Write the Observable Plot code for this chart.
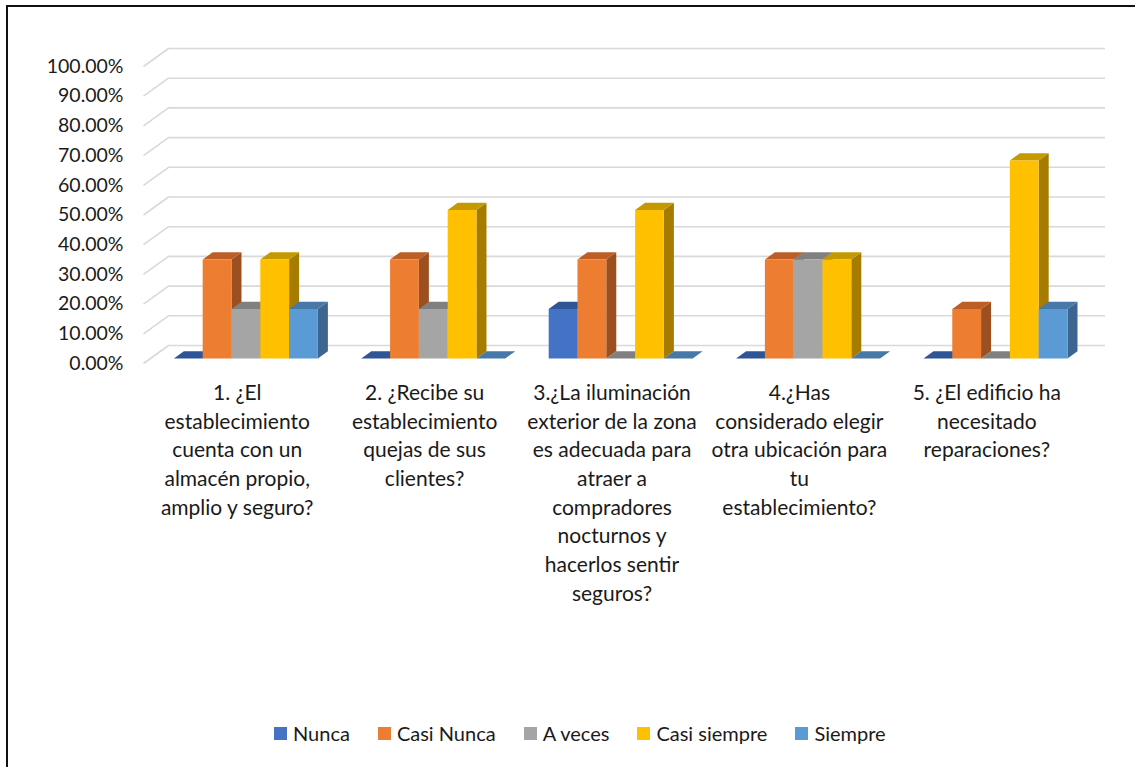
<!DOCTYPE html>
<html>
<head>
<meta charset="utf-8">
<script src="https://cdn.jsdelivr.net/npm/d3@7"></script>
<script src="https://cdn.jsdelivr.net/npm/@observablehq/plot@0.6"></script>
<style>
  html, body { margin: 0; padding: 0; background: #fff; }
  #wrap { position: relative; width: 1135px; height: 767px; overflow: hidden; font-family: Lato, "Open Sans", sans-serif; }
  #frame { position: absolute; left: 6px; top: 5px; width: 1140px; height: 800px; border-top: 2.5px solid #111; border-left: 2.5px solid #111; pointer-events: none; }
  #chart { position: absolute; left: 0; top: 0; }
  #legend { position: absolute; left: 274px; top: 721px; display: flex; align-items: center; font-size: 20px; color: #1a1a1a; }
  .item { display: flex; align-items: center; margin-right: 28px; }
  .sw { width: 13px; height: 13px; margin-right: 6px; }
</style>
</head>
<body>
<div id="wrap">
  <div id="chart"></div>
  <div id="legend"></div>
  <div id="frame"></div>
</div>
<script>
// ---- data ----
const categories = [
  "1. ¿El\nestablecimiento\ncuenta con un\nalmacén propio,\namplio y seguro?",
  "2. ¿Recibe su\nestablecimiento\nquejas de sus\nclientes?",
  "3.¿La iluminación\nexterior de la zona\nes adecuada para\natraer a\ncompradores\nnocturnos y\nhacerlos sentir\nseguros?",
  "4.¿Has\nconsiderado elegir\notra ubicación para\ntu\nestablecimiento?",
  "5. ¿El edificio ha\nnecesitado\nreparaciones?"
];
const seriesNames = ["Nunca", "Casi Nunca", "A veces", "Casi siempre", "Siempre"];
const nunca       = [0,      0,      0.1667, 0,      0];
const casiNunca   = [0.3333, 0.3333, 0.3333, 0.3333, 0.1667];
const aVeces      = [0.1667, 0.1667, 0,      0.3333, 0];
const casiSiempre = [0.3333, 0.5,    0.5,    0.3333, 0.6667];
const siempre     = [0.1667, 0,      0,      0,      0.1667];
const yTicks = [0, 0.1, 0.2, 0.3, 0.4, 0.5, 0.6, 0.7, 0.8, 0.9, 1.0];

const frontColors = ["#4472C4", "#ED7D31", "#A5A5A5", "#FFC000", "#5B9BD5"];
const topColors   = ["#2F5597", "#BD5E24", "#808080", "#C49A00", "#4678A8"];
const sideColors  = ["#2B4E8C", "#9C5020", "#6F6F6F", "#A67C00", "#3C6590"];

// ---- layout ----
const W = 1135, H = 700;
const mL = 143, mR = 55, mT = 66, mB = H - 363;
const kx = categories.length / (W - mL - mR); // data units per px (x)
const ky = 1 / (H - mT - mB);                 // data units per px (y)
const wallDx = 25, wallDy = 18;               // depth of wall (px)
const barDx = 6.25, barDy = -4.5;             // bar placement inside depth
const depthX = 10, depthY = 7.3;              // bar depth (px)
const barOff = 0.1314, barW = 0.1537;         // within band (units)

const allSeries = [nunca, casiNunca, aVeces, casiSiempre, siempre];
const bars = [];
categories.forEach((c, i) => {
  allSeries.forEach((vals, j) => {
    const x1 = i + barOff + j * barW;
    bars.push({id: i + "-" + j, i, j, x1, x2: x1 + barW, v: vals[i]});
  });
});
const tops = bars.flatMap(b => [
  {id: b.id, y: b.v, x1: b.x1, x2: b.x2, fill: topColors[b.j]},
  {id: b.id, y: b.v + depthY * ky, x1: b.x1 + depthX * kx, x2: b.x2 + depthX * kx, fill: topColors[b.j]}
]);
const sides = bars.flatMap(b => [
  {id: b.id, x: b.x2, y1: 0, y2: b.v, fill: sideColors[b.j]},
  {id: b.id, x: b.x2 + depthX * kx, y1: depthY * ky, y2: b.v + depthY * ky, fill: sideColors[b.j]}
]);
const diag = yTicks.map(t => ({x1: 0, y1: t, x2: wallDx * kx, y2: t + wallDy * ky}));
const labels = categories.map((c, i) => ({x: i + 0.5, text: c}));

const chart = Plot.plot({
  width: W, height: H,
  marginLeft: mL, marginRight: mR, marginTop: mT, marginBottom: mB,
  style: {fontFamily: "Lato, 'Open Sans', sans-serif", fontSize: "19.5px", color: "#1a1a1a", background: "transparent"},
  x: {domain: [0, categories.length], axis: null},
  y: {domain: [0, 1], axis: null},
  color: {type: "identity"},
  marks: [
    Plot.ruleY(yTicks, {x1: 0, x2: categories.length, dx: wallDx, dy: -wallDy, stroke: "#d9d9d9", strokeWidth: 1.6}),
    Plot.link(diag, {x1: "x1", y1: "y1", x2: "x2", y2: "y2", stroke: "#d9d9d9", strokeWidth: 1.6}),
    Plot.axisY({ticks: yTicks, tickFormat: d3.format(".2%"), tickSize: 0, tickPadding: 20, fontSize: 19.5, fill: "#1a1a1a"}),
    Plot.areaY(sides, {x: "x", y1: "y1", y2: "y2", z: "id", fill: "fill", curve: "linear", dx: barDx, dy: barDy}),
    Plot.areaX(tops, {y: "y", x1: "x1", x2: "x2", z: "id", fill: "fill", curve: "linear", dx: barDx, dy: barDy}),
    Plot.rect(bars, {x1: "x1", x2: "x2", y1: 0, y2: "v", fill: d => frontColors[d.j], dx: barDx, dy: barDy}),
    Plot.text(labels, {x: "x", y: 0, text: "text", lineAnchor: "top", dy: 16, lineHeight: 1.367, fontSize: 21, fill: "#1a1a1a"})
  ]
});
document.getElementById("chart").appendChild(chart);

const legend = document.getElementById("legend");
seriesNames.forEach((name, j) => {
  const item = document.createElement("div");
  item.className = "item";
  const sw = document.createElement("div");
  sw.className = "sw";
  sw.style.background = frontColors[j];
  const tx = document.createElement("span");
  tx.textContent = name;
  item.appendChild(sw);
  item.appendChild(tx);
  legend.appendChild(item);
});
</script>
</body>
</html>
